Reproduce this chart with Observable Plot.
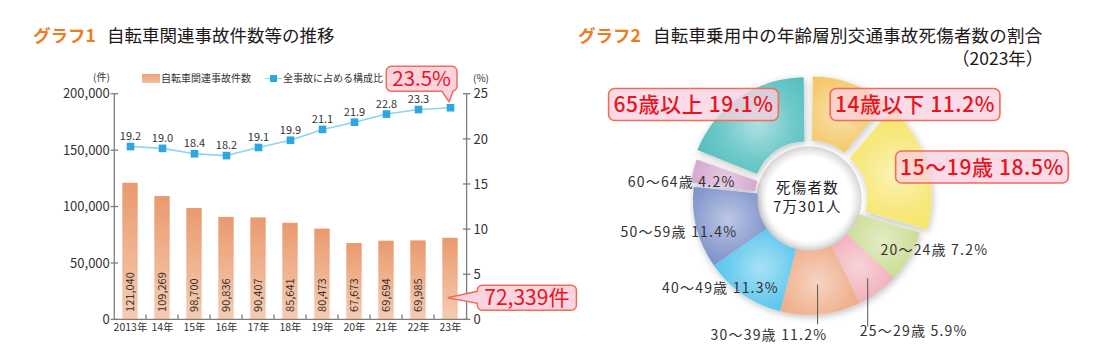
<!DOCTYPE html>
<html lang="ja"><head><meta charset="utf-8">
<script src="https://cdn.jsdelivr.net/npm/d3@7"></script>
<script src="https://cdn.jsdelivr.net/npm/@observablehq/plot@0.6"></script>
<style>
html,body{margin:0;padding:0;background:#fff;}
#root{position:relative;width:1114px;height:356px;overflow:hidden;font-family:"Noto Sans CJK JP","Noto Sans",sans-serif;color:#231815;}
.abs{position:absolute;white-space:nowrap;line-height:1;}
.t{font-size:17.5px;}
.t b{color:#ef7b1f;font-weight:700;}
.sm{font-size:10px;color:#333;}
#c1,#c2{position:absolute;top:0;}
#c1{left:0px}
#c2{left:560px}
</style></head><body><div id="root">
<div class="abs t" style="left:33px;top:26px"><b>グラフ1</b></div>
<div class="abs t" style="left:107px;top:26px">自転車関連事故件数等の推移</div>
<div class="abs t" style="left:578px;top:26px"><b>グラフ2</b></div>
<div class="abs t" style="left:653px;top:26px;letter-spacing:0.2px">自転車乗用中の年齢層別交通事故死傷者数の割合</div>
<div class="abs t" style="left:952px;top:49px">（2023年）</div>
<div class="abs sm" style="left:93px;top:72px">(件)</div>
<div class="abs sm" style="left:473px;top:73px">(%)</div>
<div class="abs" style="left:142px;top:73.5px;width:17.5px;height:9.5px;background:linear-gradient(#eba27a,#f3c09f)"></div>
<div class="abs sm" style="left:161px;top:73px">自転車関連事故件数</div>
<div class="abs" style="left:265px;top:77.5px;width:17px;height:1.6px;background:#8fd3f0"></div>
<div class="abs" style="left:270px;top:75px;width:6.5px;height:6.5px;background:#2aa9e0"></div>
<div class="abs sm" style="left:283px;top:73px">全事故に占める構成比</div>
<div id="c1"></div>
<div id="c2"></div>
</div>
<script>
// ---------- data ----------
const years = ["2013","2014","2015","2016","2017","2018","2019","2020","2021","2022","2023"];
const yearLabels = ["2013年","14年","15年","16年","17年","18年","19年","20年","21年","22年","23年"];
const accidents = [121040,109269,98700,90836,90407,85641,80473,67673,69694,69985,72339];
const shares = [19.2,19.0,18.4,18.2,19.1,19.9,21.1,21.9,22.8,23.3,23.5];
const leftTicks = [0,50000,100000,150000,200000];
const rightTicks = [0,5,10,15,20,25];

const ageGroups = ["14歳以下","15～19歳","20～24歳","25～29歳","30～39歳","40～49歳","50～59歳","60～64歳","65歳以上"];
const agePct = [11.2,18.5,7.2,5.9,11.2,11.3,11.4,4.2,19.1];
const totalLines = ["死傷者数","7万301人"];

// ---------- styles / layout ----------
const ageColors = ["#f2bd48","#f5e462","#c0d57c","#ee9eaa","#eca077","#40bdea","#6a82c2","#c88cc1","#4cbcbb"];
const FONT = `"Noto Sans CJK JP","Noto Sans",sans-serif`;
const ctx = document.createElement("canvas").getContext("2d");
function measure(t, size, ls = 0) { ctx.font = `${size}px ${FONT}`; return ctx.measureText(t).width + ls * t.length; }

function boxBottom(x0,y0,x1,y1,r,b0,b1,tx,ty){
  return `M${x0+r},${y0}H${x1-r}A${r},${r} 0 0 1 ${x1},${y0+r}V${y1-r}A${r},${r} 0 0 1 ${x1-r},${y1}H${b1}L${tx},${ty}L${b0},${y1}H${x0+r}A${r},${r} 0 0 1 ${x0},${y1-r}V${y0+r}A${r},${r} 0 0 1 ${x0+r},${y0}Z`;
}
function boxLeft(x0,y0,x1,y1,r,b0,b1,tx,ty){
  return `M${x0+r},${y0}H${x1-r}A${r},${r} 0 0 1 ${x1},${y0+r}V${y1-r}A${r},${r} 0 0 1 ${x1-r},${y1}H${x0+r}A${r},${r} 0 0 1 ${x0},${y1-r}V${b1}L${tx},${ty}L${x0},${b0}V${y0+r}A${r},${r} 0 0 1 ${x0+r},${y0}Z`;
}
const BOX_FILL = "#fcd3df", BOX_STROKE = "#ef6e55", RED = "#e8141e";

// ---------- chart 1 ----------
const k = 200000 / 25;
const rows = years.map((y, i) => ({year: y, count: accidents[i], pct: shares[i]}));
const W1 = 600, H = 356;
const ML = 114.3, MR = W1 - 466.6, MT = 93.7, MB = H - 319.4;
const AX = "#7d7d7d";

function gradDefs() {
  const g = d3.create("svg:g");
  const lg = g.append("defs").append("linearGradient").attr("id","barGrad").attr("x1",0).attr("y1",0).attr("x2",0).attr("y2",1);
  lg.append("stop").attr("offset","0%").attr("stop-color","#e99a6e");
  lg.append("stop").attr("offset","100%").attr("stop-color","#f6ccb1");
  return g.node();
}
function axesLines(index, {x, y}, values, dims) {
  const g = d3.create("svg:g").attr("stroke", AX).attr("stroke-width", 1.3).attr("fill","none");
  const xl = dims.marginLeft, xr = dims.width - dims.marginRight, yb = dims.height - dims.marginBottom, yt = dims.marginTop;
  g.append("path").attr("d", `M${xl},${yt}V${yb}H${xr}V${yt}`);
  leftTicks.forEach(v => g.append("path").attr("d", `M${xl-3.7},${y(v)}H${xl+3.7}`));
  rightTicks.forEach(v => g.append("path").attr("d", `M${xr-3.7},${y(v*k)}H${xr+3.7}`));
  years.slice(1).forEach(yr => g.append("path").attr("d", `M${x(yr)},${yb}V${yb-5}`));
  return g.node();
}
function callouts1(index, {x, y}) {
  const g = d3.create("svg:g");
  const last = rows[rows.length - 1];
  const bw = x.bandwidth ? x.bandwidth() : 0;
  const cxp = x(last.year) + bw / 2;
  {
    const tx = cxp - 1, ty = y(last.pct * k) - 5.5;
    const t = last.pct.toFixed(1) + "%";
    const w = measure(t, 20.5) + 12, h = 25;
    const x1 = tx + 8, x0 = x1 - w, y1 = ty - 10.5, y0 = y1 - h;
    g.append("path").attr("d", boxBottom(x0,y0,x1,y1,5,tx-7,tx+4,tx,ty)).attr("fill",BOX_FILL).attr("stroke",BOX_STROKE).attr("stroke-width",1.5);
    g.append("text").attr("x",(x0+x1)/2).attr("y",(y0+y1)/2).attr("dy","0.36em").attr("text-anchor","middle")
      .attr("font-size",20.5).attr("fill",RED).text(t);
  }
  {
    const tx = cxp - 2.4, ty = y(0) - 21.6;
    const t = d3.format(",")(last.count) + "件";
    const w = measure(t, 21) + 14, h = 25;
    const x0 = tx + 29.7, x1 = x0 + w, y0 = ty - 12.5, y1 = y0 + h;
    g.append("path").attr("d", boxLeft(x0,y0,x1,y1,5,ty-6.5,ty+5.5,tx,ty)).attr("fill",BOX_FILL).attr("stroke",BOX_STROKE).attr("stroke-width",1.5);
    g.append("text").attr("x",(x0+x1)/2).attr("y",(y0+y1)/2).attr("dy","0.36em").attr("text-anchor","middle")
      .attr("font-size",21).attr("fill",RED).text(t);
  }
  return g.node();
}

const chart1 = Plot.plot({
  width: W1, height: H,
  marginLeft: ML, marginRight: MR, marginTop: MT, marginBottom: MB,
  style: {background: "transparent", overflow: "visible", fontFamily: FONT, color: "#333"},
  x: {type: "band", domain: years, padding: 0, axis: null},
  y: {domain: [0, 200000], axis: null},
  marks: [
    gradDefs,
    Plot.barY(rows, {x: "year", y: "count", fill: "url(#barGrad)", insetLeft: 8.3, insetRight: 8.3}),
    Plot.text(rows.slice(0, -1), {x: "year", y: () => 0, text: d => d3.format(",")(d.count), rotate: -90,
      textAnchor: "start", dy: -8, fontSize: 11, fill: "#333"}),
    axesLines,
    Plot.line(rows, {x: "year", y: d => d.pct * k, stroke: "#8fd3f0", strokeWidth: 1.6}),
    Plot.dot(rows, {x: "year", y: d => d.pct * k, symbol: "square", r: 4.3, fill: "#2aa9e0", stroke: "none"}),
    Plot.text(rows.slice(0, -1), {x: "year", y: d => d.pct * k, text: d => d.pct.toFixed(1), dy: -10, fontSize: 11, fill: "#333"}),
    Plot.axisY(leftTicks, {anchor: "left", tickSize: 0, tickPadding: 5, tickFormat: d3.format(","), fontSize: 13, fill: "#333", label: null}),
    Plot.axisY(rightTicks.map(v => v * k), {anchor: "right", tickSize: 0, tickPadding: 6.5, tickFormat: d => d / k, fontSize: 13, fill: "#333", label: null}),
    Plot.axisX(years, {anchor: "bottom", tickSize: 0, tickPadding: 4, tickFormat: d => yearLabels[years.indexOf(d)], fontSize: 10.5, fill: "#333", label: null}),
    callouts1
  ]
});
document.getElementById("c1").appendChild(chart1);

// ---------- chart 2 (donut) ----------
const W2 = 554, PX = 116, CX = 249, CY = 199;
const innerRatio = 0.445;
const explode = [7, 7, 0, 0, 0, 0, 0, 3, 7];
const angInset = [0.012, 0.012, 0, 0, 0, 0, 0, 0.03, 0.012];
const calloutLayout = [{i: 8, x: -0.996, y: 0.815}, {i: 0, x: 0.914, y: 0.815}, {i: 1, x: 1.491, y: 0.276}];
const labelLayout = [
  {i: 7, x: -0.638, y: 0.149, anchor: "end"},
  {i: 6, x: -0.623, y: -0.287, anchor: "end"},
  {i: 5, x: -0.265, y: -0.770, anchor: "end"},
  {i: 4, x: 0.153, y: -1.172, anchor: "end"},
  {i: 3, x: 0.434, y: -1.138, anchor: "start"},
  {i: 2, x: 0.612, y: -0.44, anchor: "start"}
];
const centerLayout = [{x: -0.017, y: 0.093}, {x: -0.017, y: -0.072}];
const leaderLayout = [{i: 4, r: 0.74, y2: -1.08}, {i: 3, r: 0.85, y2: -1.10}];
const LS = 1.2;
const labelText = i => `${ageGroups[i]} ${agePct[i].toFixed(1)}%`;

function donut(index, {x, y}) {
  const cx = x(0), cy = y(0), R = x(1) - x(0), r0 = R * innerRatio;
  const pie = d3.pie().sort(null).value(d => d)(agePct);
  const arc = d3.arc().innerRadius(r0).outerRadius(R);
  const g = d3.create("svg:g");
  const defs = g.append("defs");
  const f = defs.append("filter").attr("id","dshadow").attr("x","-30%").attr("y","-30%").attr("width","160%").attr("height","160%");
  f.append("feDropShadow").attr("dx",1).attr("dy",2).attr("stdDeviation",3.5).attr("flood-color","#000").attr("flood-opacity",0.25);
  const hg = defs.append("radialGradient").attr("id","holeGrad");
  hg.append("stop").attr("offset","0.8").attr("stop-color","#ffffff");
  hg.append("stop").attr("offset","1").attr("stop-color","#d8d8d8");
  g.append("circle").attr("cx",cx).attr("cy",cy).attr("r",r0+1).attr("fill","url(#holeGrad)");
  const gg = g.append("g").attr("filter","url(#dshadow)");
  pie.forEach((a, i) => {
    const a2 = {...a, startAngle: a.startAngle + angInset[i], endAngle: a.endAngle - angInset[i]};
    const mid = (a.startAngle + a.endAngle) / 2;
    const ox = cx + Math.sin(mid) * explode[i], oy = cy - Math.cos(mid) * explode[i];
    const [px, py] = arc.centroid(a2);
    const c = ageColors[i];
    const rg = defs.append("radialGradient").attr("id","rg"+i).attr("gradientUnits","userSpaceOnUse")
      .attr("cx", px).attr("cy", py).attr("r", R*0.62);
    rg.append("stop").attr("offset",0).attr("stop-color", d3.interpolateRgb(c, "#fff")(0.55));
    rg.append("stop").attr("offset",0.5).attr("stop-color", d3.interpolateRgb(c, "#fff")(0.2));
    rg.append("stop").attr("offset",1).attr("stop-color", c);
    gg.append("path").attr("d", arc(a2)).attr("transform", `translate(${ox},${oy})`).attr("fill", `url(#rg${i})`);
  });
  leaderLayout.forEach(l => {
    const a = pie[l.i], mid = (a.startAngle + a.endAngle) / 2;
    const x0 = cx + Math.sin(mid) * R * l.r, y0 = cy - Math.cos(mid) * R * l.r;
    g.append("line").attr("x1", x0).attr("x2", x0).attr("y1", y0).attr("y2", y(l.y2))
      .attr("stroke", "#555").attr("stroke-width", 1);
  });
  return g.node();
}
function callouts2(index, {x, y}) {
  const g = d3.create("svg:g");
  calloutLayout.forEach(c => {
    const t = labelText(c.i);
    const w = measure(t, 21, 0.6) + 12, h = 32;
    const X = x(c.x), Y = y(c.y);
    g.append("rect").attr("x", X - w/2).attr("y", Y - h/2).attr("width", w).attr("height", h).attr("rx", 6)
      .attr("fill", "#fbcfe0").attr("fill-opacity", 0.75).attr("stroke", BOX_STROKE).attr("stroke-width", 1.6);
    g.append("text").attr("x", X).attr("y", Y).attr("dy", "0.36em").attr("text-anchor", "middle")
      .attr("font-size", 21).attr("font-weight", 500).attr("letter-spacing", "0.6px").attr("fill", RED).text(t);
  });
  return g.node();
}

const labelRows = labelLayout.map(l => ({...l, text: labelText(l.i)}));
const centerRows = totalLines.map((t, i) => ({...centerLayout[i], text: t}));
const chart2 = Plot.plot({
  width: W2, height: H, margin: 0,
  style: {background: "transparent", overflow: "visible", fontFamily: FONT, letterSpacing: LS + "px", color: "#333"},
  x: {domain: [-CX / PX, (W2 - CX) / PX], axis: null},
  y: {domain: [-(H - CY) / PX, CY / PX], axis: null},
  marks: [
    donut,
    Plot.text(labelRows.filter(d => d.anchor === "end"), {x: "x", y: "y", text: "text", textAnchor: "end", fontSize: 14, fill: "#333"}),
    Plot.text(labelRows.filter(d => d.anchor === "start"), {x: "x", y: "y", text: "text", textAnchor: "start", fontSize: 14, fill: "#333"}),
    Plot.text(centerRows, {x: "x", y: "y", text: "text", fontSize: 14.5, fill: "#222"}),
    callouts2
  ]
});
document.getElementById("c2").appendChild(chart2);
</script>
</body></html>
